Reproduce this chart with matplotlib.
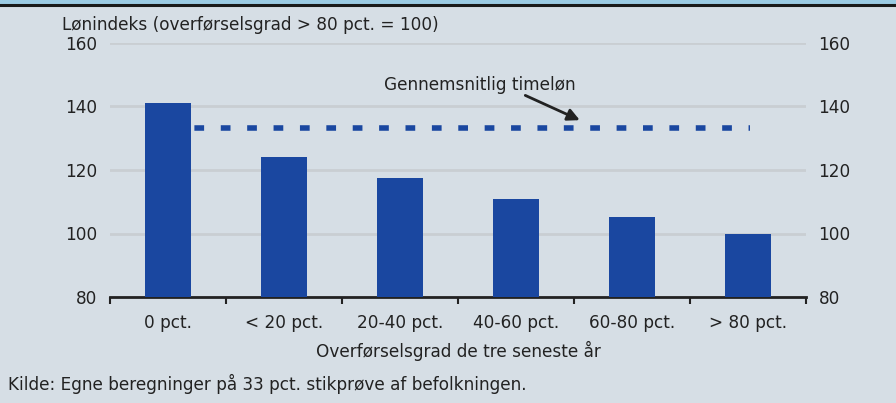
import numpy as np
import matplotlib.pyplot as plt
from matplotlib.patches import Rectangle
from matplotlib.lines import Line2D

# Lønindeks efter overførselsgrad
categories = ["0 pct.", "< 20 pct.", "20-40 pct.", "40-60 pct.", "60-80 pct.", "> 80 pct."]
wage_index = [141.2, 124.2, 117.5, 110.9, 105.2, 100.0]
avg_wage = 133.1
yticks = [80, 100, 120, 140, 160]

bg = "#d6dee5"
bar_col = "#1a47a0"
txt = "#222222"
fs = 12.2

fig = plt.figure(figsize=(8.96, 4.03), dpi=100, facecolor=bg)
ax = fig.add_axes([110 / 896, 1 - 297 / 403, 696 / 896, 254 / 403])
ax.set_facecolor(bg)

x = np.arange(len(categories))
ax.bar(x, wage_index, width=0.405, color=bar_col, zorder=3)
ax.plot([0, 5.02], [avg_wage, avg_wage], color=bar_col, lw=4, ls=(0, (1.75, 3)),
        solid_capstyle="butt", dash_capstyle="butt", zorder=2)

ax.set_xlim(-0.5, 5.5)
ax.set_ylim(80, 160)
ax.set_yticks(yticks)
ax.yaxis.grid(True, color="#c9ced2", lw=2, zorder=0)
ax.set_axisbelow(True)

for side in ["left", "right", "top"]:
    ax.spines[side].set_visible(False)
ax.spines["bottom"].set_linewidth(2)
ax.spines["bottom"].set_color(txt)

ax.set_xticks(np.arange(-0.5, 6, 1))
ax.set_xticklabels([])
ax.set_xticks(x, minor=True)
ax.set_xticklabels(categories, minor=True, fontsize=fs, color=txt)
ax.tick_params(axis="x", which="major", length=5, width=1.5, color=txt, direction="out")
ax.tick_params(axis="x", which="minor", length=0, pad=12)
ax.tick_params(axis="y", length=0, labelsize=fs, labelcolor=txt, pad=9,
               labelleft=True, labelright=True)

ax.set_xlabel("Overførselsgrad de tre seneste år", fontsize=fs, color=txt, labelpad=7)

fig.text(62 / 896, 1 - 25 / 403, "Lønindeks (overførselsgrad > 80 pct. = 100)",
         fontsize=fs, color=txt, va="center", ha="left")
fig.text(8 / 896, 1 - 384 / 403,
         "Kilde: Egne beregninger på 33 pct. stikprøve af befolkningen.",
         fontsize=fs, color=txt, va="center", ha="left")

ax.text(2.69, 146.8, "Gennemsnitlig timeløn", fontsize=fs, color=txt,
        ha="center", va="center")
ax.annotate("", xy=(3.55, 135.7), xytext=(3.08, 143.5),
            arrowprops=dict(arrowstyle="-|>", color=txt, lw=2, mutation_scale=18,
                            shrinkA=0, shrinkB=0))

# top border
fig.patches.append(Rectangle((0, 1 - 4 / 403), 1, 4 / 403, transform=fig.transFigure,
                             color="#9ccbe3", zorder=0))
fig.lines.append(Line2D([0, 1], [1 - 4.5 / 403, 1 - 4.5 / 403], transform=fig.transFigure,
                        color="#1a1a1a", lw=2.2))

fig.savefig("out.png", dpi=100, facecolor=bg)
